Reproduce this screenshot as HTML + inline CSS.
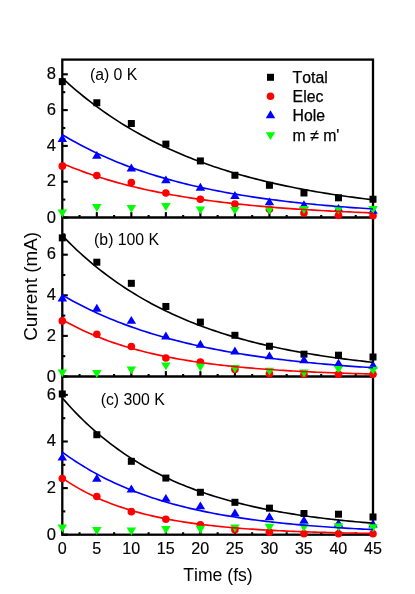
<!DOCTYPE html>
<html><head><meta charset="utf-8"><title>Current vs Time</title>
<style>
html,body{margin:0;padding:0;background:#fff;}
body{width:415px;height:594px;overflow:hidden;font-family:"Liberation Sans",sans-serif;}
svg{display:block;will-change:transform;font-kerning:none;font-family:"Liberation Sans",sans-serif;}
</style></head><body>
<svg width="415" height="594" viewBox="0 0 415 594">
<rect width="415" height="594" fill="#fff"/>
<g stroke="#000" stroke-width="2.3" fill="none" stroke-linecap="butt">
<rect x="62.3" y="59.6" width="310.7" height="475.1"/>
<line x1="62.3" y1="217.5" x2="373.0" y2="217.5"/>
<line x1="62.3" y1="376.5" x2="373.0" y2="376.5"/>
</g>
<g stroke="#000" stroke-width="2.1" fill="none">
<line x1="62.3" y1="217.50" x2="67.8" y2="217.50"/>
<line x1="62.3" y1="181.70" x2="67.8" y2="181.70"/>
<line x1="62.3" y1="145.90" x2="67.8" y2="145.90"/>
<line x1="62.3" y1="110.10" x2="67.8" y2="110.10"/>
<line x1="62.3" y1="74.30" x2="67.8" y2="74.30"/>
<line x1="62.3" y1="199.60" x2="65.3" y2="199.60"/>
<line x1="62.3" y1="163.80" x2="65.3" y2="163.80"/>
<line x1="62.3" y1="128.00" x2="65.3" y2="128.00"/>
<line x1="62.3" y1="92.20" x2="65.3" y2="92.20"/>
<line x1="62.30" y1="217.5" x2="62.30" y2="212.1"/>
<line x1="79.56" y1="217.5" x2="79.56" y2="215.0"/>
<line x1="96.82" y1="217.5" x2="96.82" y2="212.1"/>
<line x1="114.08" y1="217.5" x2="114.08" y2="215.0"/>
<line x1="131.34" y1="217.5" x2="131.34" y2="212.1"/>
<line x1="148.61" y1="217.5" x2="148.61" y2="215.0"/>
<line x1="165.87" y1="217.5" x2="165.87" y2="212.1"/>
<line x1="183.13" y1="217.5" x2="183.13" y2="215.0"/>
<line x1="200.39" y1="217.5" x2="200.39" y2="212.1"/>
<line x1="217.65" y1="217.5" x2="217.65" y2="215.0"/>
<line x1="234.91" y1="217.5" x2="234.91" y2="212.1"/>
<line x1="252.17" y1="217.5" x2="252.17" y2="215.0"/>
<line x1="269.43" y1="217.5" x2="269.43" y2="212.1"/>
<line x1="286.69" y1="217.5" x2="286.69" y2="215.0"/>
<line x1="303.96" y1="217.5" x2="303.96" y2="212.1"/>
<line x1="321.22" y1="217.5" x2="321.22" y2="215.0"/>
<line x1="338.48" y1="217.5" x2="338.48" y2="212.1"/>
<line x1="355.74" y1="217.5" x2="355.74" y2="215.0"/>
<line x1="373.00" y1="217.5" x2="373.00" y2="212.1"/>
<line x1="62.3" y1="376.50" x2="67.8" y2="376.50"/>
<line x1="62.3" y1="335.90" x2="67.8" y2="335.90"/>
<line x1="62.3" y1="295.30" x2="67.8" y2="295.30"/>
<line x1="62.3" y1="254.70" x2="67.8" y2="254.70"/>
<line x1="62.3" y1="356.20" x2="65.3" y2="356.20"/>
<line x1="62.3" y1="315.60" x2="65.3" y2="315.60"/>
<line x1="62.3" y1="275.00" x2="65.3" y2="275.00"/>
<line x1="62.3" y1="234.40" x2="65.3" y2="234.40"/>
<line x1="62.30" y1="376.5" x2="62.30" y2="371.1"/>
<line x1="79.56" y1="376.5" x2="79.56" y2="374.0"/>
<line x1="96.82" y1="376.5" x2="96.82" y2="371.1"/>
<line x1="114.08" y1="376.5" x2="114.08" y2="374.0"/>
<line x1="131.34" y1="376.5" x2="131.34" y2="371.1"/>
<line x1="148.61" y1="376.5" x2="148.61" y2="374.0"/>
<line x1="165.87" y1="376.5" x2="165.87" y2="371.1"/>
<line x1="183.13" y1="376.5" x2="183.13" y2="374.0"/>
<line x1="200.39" y1="376.5" x2="200.39" y2="371.1"/>
<line x1="217.65" y1="376.5" x2="217.65" y2="374.0"/>
<line x1="234.91" y1="376.5" x2="234.91" y2="371.1"/>
<line x1="252.17" y1="376.5" x2="252.17" y2="374.0"/>
<line x1="269.43" y1="376.5" x2="269.43" y2="371.1"/>
<line x1="286.69" y1="376.5" x2="286.69" y2="374.0"/>
<line x1="303.96" y1="376.5" x2="303.96" y2="371.1"/>
<line x1="321.22" y1="376.5" x2="321.22" y2="374.0"/>
<line x1="338.48" y1="376.5" x2="338.48" y2="371.1"/>
<line x1="355.74" y1="376.5" x2="355.74" y2="374.0"/>
<line x1="373.00" y1="376.5" x2="373.00" y2="371.1"/>
<line x1="62.3" y1="534.70" x2="67.8" y2="534.70"/>
<line x1="62.3" y1="488.10" x2="67.8" y2="488.10"/>
<line x1="62.3" y1="441.50" x2="67.8" y2="441.50"/>
<line x1="62.3" y1="394.90" x2="67.8" y2="394.90"/>
<line x1="62.3" y1="511.40" x2="65.3" y2="511.40"/>
<line x1="62.3" y1="464.80" x2="65.3" y2="464.80"/>
<line x1="62.3" y1="418.20" x2="65.3" y2="418.20"/>
<line x1="62.30" y1="534.7" x2="62.30" y2="529.3000000000001"/>
<line x1="79.56" y1="534.7" x2="79.56" y2="532.2"/>
<line x1="96.82" y1="534.7" x2="96.82" y2="529.3000000000001"/>
<line x1="114.08" y1="534.7" x2="114.08" y2="532.2"/>
<line x1="131.34" y1="534.7" x2="131.34" y2="529.3000000000001"/>
<line x1="148.61" y1="534.7" x2="148.61" y2="532.2"/>
<line x1="165.87" y1="534.7" x2="165.87" y2="529.3000000000001"/>
<line x1="183.13" y1="534.7" x2="183.13" y2="532.2"/>
<line x1="200.39" y1="534.7" x2="200.39" y2="529.3000000000001"/>
<line x1="217.65" y1="534.7" x2="217.65" y2="532.2"/>
<line x1="234.91" y1="534.7" x2="234.91" y2="529.3000000000001"/>
<line x1="252.17" y1="534.7" x2="252.17" y2="532.2"/>
<line x1="269.43" y1="534.7" x2="269.43" y2="529.3000000000001"/>
<line x1="286.69" y1="534.7" x2="286.69" y2="532.2"/>
<line x1="303.96" y1="534.7" x2="303.96" y2="529.3000000000001"/>
<line x1="321.22" y1="534.7" x2="321.22" y2="532.2"/>
<line x1="338.48" y1="534.7" x2="338.48" y2="529.3000000000001"/>
<line x1="355.74" y1="534.7" x2="355.74" y2="532.2"/>
<line x1="373.00" y1="534.7" x2="373.00" y2="529.3000000000001"/>
</g>
<g font-size="16.6" fill="#000" text-anchor="end" stroke="#000" stroke-width="0.15">
<text x="56.0" y="222.65">0</text>
<text x="56.0" y="186.35">2</text>
<text x="56.0" y="150.55">4</text>
<text x="56.0" y="114.75">6</text>
<text x="56.0" y="78.95">8</text>
<text x="56.0" y="381.65">0</text>
<text x="56.0" y="340.55">2</text>
<text x="56.0" y="299.95">4</text>
<text x="56.0" y="259.35">6</text>
<text x="56.0" y="540.35">0</text>
<text x="56.0" y="492.75">2</text>
<text x="56.0" y="446.15">4</text>
<text x="56.0" y="399.55">6</text>
</g>
<g font-size="16.1" fill="#000" text-anchor="middle" stroke="#000" stroke-width="0.15">
<text x="62.20" y="553.9">0</text>
<text x="96.72" y="553.9">5</text>
<text x="131.24" y="553.9">10</text>
<text x="165.77" y="553.9">15</text>
<text x="200.29" y="553.9">20</text>
<text x="234.81" y="553.9">25</text>
<text x="269.33" y="553.9">30</text>
<text x="303.86" y="553.9">35</text>
<text x="338.38" y="553.9">40</text>
<text x="372.90" y="553.9">45</text>
</g>
<rect x="58.80" y="78.14" width="7" height="7" fill="#000000"/>
<rect x="93.32" y="99.26" width="7" height="7" fill="#000000"/>
<rect x="127.84" y="120.03" width="7" height="7" fill="#000000"/>
<rect x="162.37" y="140.61" width="7" height="7" fill="#000000"/>
<rect x="196.89" y="157.44" width="7" height="7" fill="#000000"/>
<rect x="231.41" y="171.76" width="7" height="7" fill="#000000"/>
<rect x="265.93" y="181.78" width="7" height="7" fill="#000000"/>
<rect x="300.46" y="189.48" width="7" height="7" fill="#000000"/>
<rect x="334.98" y="194.31" width="7" height="7" fill="#000000"/>
<rect x="369.50" y="195.74" width="7" height="7" fill="#000000"/>
<circle cx="62.30" cy="166.13" r="3.8" fill="#ff0000"/>
<circle cx="96.82" cy="175.61" r="3.8" fill="#ff0000"/>
<circle cx="131.34" cy="182.59" r="3.8" fill="#ff0000"/>
<circle cx="165.87" cy="192.98" r="3.8" fill="#ff0000"/>
<circle cx="200.39" cy="199.24" r="3.8" fill="#ff0000"/>
<circle cx="234.91" cy="204.07" r="3.8" fill="#ff0000"/>
<circle cx="269.43" cy="209.27" r="3.8" fill="#ff0000"/>
<circle cx="303.96" cy="213.03" r="3.8" fill="#ff0000"/>
<circle cx="338.48" cy="215.35" r="3.8" fill="#ff0000"/>
<circle cx="373.00" cy="215.71" r="3.8" fill="#ff0000"/>
<path d="M57.55 141.97L67.05 141.97L62.30 134.07Z" fill="#0000ff"/>
<path d="M92.07 158.80L101.57 158.80L96.82 150.90Z" fill="#0000ff"/>
<path d="M126.59 171.51L136.09 171.51L131.34 163.61Z" fill="#0000ff"/>
<path d="M161.12 183.32L170.62 183.32L165.87 175.42Z" fill="#0000ff"/>
<path d="M195.64 190.66L205.14 190.66L200.39 182.76Z" fill="#0000ff"/>
<path d="M230.16 198.90L239.66 198.90L234.91 191.00Z" fill="#0000ff"/>
<path d="M264.68 205.34L274.18 205.34L269.43 197.44Z" fill="#0000ff"/>
<path d="M299.21 208.20L308.71 208.20L303.96 200.30Z" fill="#0000ff"/>
<path d="M333.73 211.78L343.23 211.78L338.48 203.88Z" fill="#0000ff"/>
<path d="M368.25 213.75L377.75 213.75L373.00 205.85Z" fill="#0000ff"/>
<path d="M57.55 209.52L67.05 209.52L62.30 217.42Z" fill="#00ff00"/>
<path d="M92.07 204.06L101.57 204.06L96.82 211.96Z" fill="#00ff00"/>
<path d="M126.59 204.96L136.09 204.96L131.34 212.86Z" fill="#00ff00"/>
<path d="M161.12 202.99L170.62 202.99L165.87 210.89Z" fill="#00ff00"/>
<path d="M195.64 206.39L205.14 206.39L200.39 214.29Z" fill="#00ff00"/>
<path d="M230.16 206.93L239.66 206.93L234.91 214.83Z" fill="#00ff00"/>
<path d="M264.68 206.57L274.18 206.57L269.43 214.47Z" fill="#00ff00"/>
<path d="M299.21 206.03L308.71 206.03L303.96 213.93Z" fill="#00ff00"/>
<path d="M333.73 206.39L343.23 206.39L338.48 214.29Z" fill="#00ff00"/>
<path d="M368.25 206.03L377.75 206.03L373.00 213.93Z" fill="#00ff00"/>
<polyline points="62.30,78.06 65.75,81.22 69.20,84.31 72.66,87.33 76.11,90.28 79.56,93.17 83.01,95.99 86.47,98.74 89.92,101.43 93.37,104.07 96.82,106.64 100.27,109.15 103.73,111.61 107.18,114.01 110.63,116.36 114.08,118.65 117.54,120.89 120.99,123.08 124.44,125.22 127.89,127.32 131.34,129.36 134.80,131.36 138.25,133.31 141.70,135.22 145.15,137.09 148.61,138.91 152.06,140.69 155.51,142.43 158.96,144.14 162.41,145.80 165.87,147.42 169.32,149.01 172.77,150.57 176.22,152.08 179.68,153.57 183.13,155.02 186.58,156.43 190.03,157.82 193.48,159.17 196.94,160.49 200.39,161.79 203.84,163.05 207.29,164.29 210.75,165.49 214.20,166.67 217.65,167.82 221.10,168.95 224.55,170.05 228.01,171.13 231.46,172.18 234.91,173.21 238.36,174.21 241.82,175.19 245.27,176.15 248.72,177.09 252.17,178.01 255.62,178.90 259.08,179.78 262.53,180.63 265.98,181.47 269.43,182.28 272.89,183.08 276.34,183.86 279.79,184.63 283.24,185.37 286.69,186.10 290.15,186.81 293.60,187.51 297.05,188.19 300.50,188.85 303.96,189.50 307.41,190.14 310.86,190.76 314.31,191.36 317.76,191.96 321.22,192.54 324.67,193.10 328.12,193.65 331.57,194.20 335.03,194.72 338.48,195.24 341.93,195.75 345.38,196.24 348.83,196.72 352.29,197.19 355.74,197.65 359.19,198.10 362.64,198.54 366.10,198.97 369.55,199.39 373.00,199.80" fill="none" stroke="#000000" stroke-width="1.65" stroke-linejoin="round"/>
<polyline points="62.30,163.44 65.75,164.90 69.20,166.32 72.66,167.70 76.11,169.04 79.56,170.34 83.01,171.62 86.47,172.85 89.92,174.06 93.37,175.23 96.82,176.37 100.27,177.47 103.73,178.55 107.18,179.60 110.63,180.62 114.08,181.62 117.54,182.59 120.99,183.53 124.44,184.44 127.89,185.33 131.34,186.20 134.80,187.04 138.25,187.86 141.70,188.66 145.15,189.44 148.61,190.20 152.06,190.93 155.51,191.65 158.96,192.35 162.41,193.02 165.87,193.68 169.32,194.33 172.77,194.95 176.22,195.56 179.68,196.15 183.13,196.72 186.58,197.28 190.03,197.83 193.48,198.36 196.94,198.88 200.39,199.38 203.84,199.87 207.29,200.34 210.75,200.80 214.20,201.25 217.65,201.69 221.10,202.12 224.55,202.53 228.01,202.94 231.46,203.33 234.91,203.71 238.36,204.08 241.82,204.44 245.27,204.80 248.72,205.14 252.17,205.47 255.62,205.80 259.08,206.11 262.53,206.42 265.98,206.72 269.43,207.01 272.89,207.29 276.34,207.56 279.79,207.83 283.24,208.09 286.69,208.35 290.15,208.59 293.60,208.83 297.05,209.07 300.50,209.29 303.96,209.52 307.41,209.73 310.86,209.94 314.31,210.14 317.76,210.34 321.22,210.54 324.67,210.72 328.12,210.91 331.57,211.08 335.03,211.26 338.48,211.42 341.93,211.59 345.38,211.75 348.83,211.90 352.29,212.05 355.74,212.20 359.19,212.34 362.64,212.48 366.10,212.62 369.55,212.75 373.00,212.88" fill="none" stroke="#ff0000" stroke-width="1.65" stroke-linejoin="round"/>
<polyline points="62.30,134.62 65.75,136.69 69.20,138.70 72.66,140.67 76.11,142.59 79.56,144.45 83.01,146.28 86.47,148.05 89.92,149.78 93.37,151.47 96.82,153.12 100.27,154.72 103.73,156.29 107.18,157.82 110.63,159.30 114.08,160.75 117.54,162.17 120.99,163.55 124.44,164.89 127.89,166.21 131.34,167.49 134.80,168.73 138.25,169.95 141.70,171.13 145.15,172.29 148.61,173.42 152.06,174.52 155.51,175.59 158.96,176.63 162.41,177.65 165.87,178.65 169.32,179.62 172.77,180.56 176.22,181.48 179.68,182.38 183.13,183.26 186.58,184.11 190.03,184.94 193.48,185.75 196.94,186.55 200.39,187.32 203.84,188.07 207.29,188.80 210.75,189.52 214.20,190.22 217.65,190.90 221.10,191.56 224.55,192.21 228.01,192.84 231.46,193.45 234.91,194.05 238.36,194.64 241.82,195.21 245.27,195.76 248.72,196.31 252.17,196.83 255.62,197.35 259.08,197.85 262.53,198.34 265.98,198.82 269.43,199.29 272.89,199.74 276.34,200.18 279.79,200.61 283.24,201.04 286.69,201.45 290.15,201.85 293.60,202.24 297.05,202.62 300.50,202.99 303.96,203.35 307.41,203.70 310.86,204.05 314.31,204.38 317.76,204.71 321.22,205.03 324.67,205.34 328.12,205.64 331.57,205.94 335.03,206.23 338.48,206.51 341.93,206.78 345.38,207.05 348.83,207.31 352.29,207.56 355.74,207.81 359.19,208.05 362.64,208.29 366.10,208.52 369.55,208.74 373.00,208.96" fill="none" stroke="#0000ff" stroke-width="1.65" stroke-linejoin="round"/>
<rect x="58.80" y="234.35" width="7" height="7" fill="#000000"/>
<rect x="93.32" y="258.71" width="7" height="7" fill="#000000"/>
<rect x="127.84" y="279.82" width="7" height="7" fill="#000000"/>
<rect x="162.37" y="302.96" width="7" height="7" fill="#000000"/>
<rect x="196.89" y="318.60" width="7" height="7" fill="#000000"/>
<rect x="231.41" y="331.79" width="7" height="7" fill="#000000"/>
<rect x="265.93" y="342.75" width="7" height="7" fill="#000000"/>
<rect x="300.46" y="350.67" width="7" height="7" fill="#000000"/>
<rect x="334.98" y="351.69" width="7" height="7" fill="#000000"/>
<rect x="369.50" y="353.51" width="7" height="7" fill="#000000"/>
<circle cx="62.30" cy="320.88" r="3.8" fill="#ff0000"/>
<circle cx="96.82" cy="334.28" r="3.8" fill="#ff0000"/>
<circle cx="131.34" cy="346.46" r="3.8" fill="#ff0000"/>
<circle cx="165.87" cy="358.03" r="3.8" fill="#ff0000"/>
<circle cx="200.39" cy="362.09" r="3.8" fill="#ff0000"/>
<circle cx="234.91" cy="369.39" r="3.8" fill="#ff0000"/>
<circle cx="269.43" cy="373.86" r="3.8" fill="#ff0000"/>
<circle cx="303.96" cy="374.27" r="3.8" fill="#ff0000"/>
<circle cx="338.48" cy="374.27" r="3.8" fill="#ff0000"/>
<circle cx="373.00" cy="374.27" r="3.8" fill="#ff0000"/>
<path d="M57.55 301.48L67.05 301.48L62.30 293.58Z" fill="#0000ff"/>
<path d="M92.07 311.63L101.57 311.63L96.82 303.73Z" fill="#0000ff"/>
<path d="M126.59 323.81L136.09 323.81L131.34 315.91Z" fill="#0000ff"/>
<path d="M161.12 339.44L170.62 339.44L165.87 331.54Z" fill="#0000ff"/>
<path d="M195.64 347.77L205.14 347.77L200.39 339.87Z" fill="#0000ff"/>
<path d="M230.16 354.47L239.66 354.47L234.91 346.57Z" fill="#0000ff"/>
<path d="M264.68 359.34L274.18 359.34L269.43 351.44Z" fill="#0000ff"/>
<path d="M299.21 363.19L308.71 363.19L303.96 355.30Z" fill="#0000ff"/>
<path d="M333.73 366.65L343.23 366.65L338.48 358.75Z" fill="#0000ff"/>
<path d="M368.25 368.57L377.75 368.57L373.00 360.67Z" fill="#0000ff"/>
<path d="M57.55 369.40L67.05 369.40L62.30 377.30Z" fill="#00ff00"/>
<path d="M92.07 370.01L101.57 370.01L96.82 377.91Z" fill="#00ff00"/>
<path d="M126.59 366.46L136.09 366.46L131.34 374.36Z" fill="#00ff00"/>
<path d="M161.12 362.40L170.62 362.40L165.87 370.30Z" fill="#00ff00"/>
<path d="M195.64 363.62L205.14 363.62L200.39 371.52Z" fill="#00ff00"/>
<path d="M230.16 365.04L239.66 365.04L234.91 372.94Z" fill="#00ff00"/>
<path d="M264.68 367.68L274.18 367.68L269.43 375.58Z" fill="#00ff00"/>
<path d="M299.21 369.50L308.71 369.50L303.96 377.40Z" fill="#00ff00"/>
<path d="M333.73 365.75L343.23 365.75L338.48 373.65Z" fill="#00ff00"/>
<path d="M368.25 366.87L377.75 366.87L373.00 374.77Z" fill="#00ff00"/>
<polyline points="62.30,235.62 65.75,239.17 69.20,242.63 72.66,246.00 76.11,249.28 79.56,252.49 83.01,255.61 86.47,258.66 89.92,261.63 93.37,264.52 96.82,267.34 100.27,270.09 103.73,272.77 107.18,275.38 110.63,277.93 114.08,280.41 117.54,282.83 120.99,285.19 124.44,287.49 127.89,289.73 131.34,291.92 134.80,294.05 138.25,296.13 141.70,298.15 145.15,300.12 148.61,302.05 152.06,303.92 155.51,305.75 158.96,307.53 162.41,309.27 165.87,310.96 169.32,312.61 172.77,314.22 176.22,315.79 179.68,317.32 183.13,318.81 186.58,320.26 190.03,321.68 193.48,323.06 196.94,324.41 200.39,325.72 203.84,327.00 207.29,328.25 210.75,329.46 214.20,330.65 217.65,331.80 221.10,332.93 224.55,334.02 228.01,335.09 231.46,336.14 234.91,337.15 238.36,338.14 241.82,339.11 245.27,340.05 248.72,340.97 252.17,341.87 255.62,342.74 259.08,343.59 262.53,344.42 265.98,345.22 269.43,346.01 272.89,346.78 276.34,347.53 279.79,348.26 283.24,348.97 286.69,349.66 290.15,350.34 293.60,351.00 297.05,351.64 300.50,352.27 303.96,352.88 307.41,353.47 310.86,354.05 314.31,354.62 317.76,355.17 321.22,355.71 324.67,356.23 328.12,356.74 331.57,357.24 335.03,357.72 338.48,358.20 341.93,358.66 345.38,359.11 348.83,359.54 352.29,359.97 355.74,360.39 359.19,360.79 362.64,361.19 366.10,361.58 369.55,361.95 373.00,362.32" fill="none" stroke="#000000" stroke-width="1.65" stroke-linejoin="round"/>
<polyline points="62.30,319.66 65.75,321.61 69.20,323.50 72.66,325.32 76.11,327.08 79.56,328.78 83.01,330.42 86.47,332.00 89.92,333.53 93.37,335.01 96.82,336.43 100.27,337.81 103.73,339.14 107.18,340.42 110.63,341.66 114.08,342.86 117.54,344.01 120.99,345.13 124.44,346.21 127.89,347.25 131.34,348.25 134.80,349.22 138.25,350.16 141.70,351.07 145.15,351.94 148.61,352.78 152.06,353.60 155.51,354.39 158.96,355.15 162.41,355.88 165.87,356.59 169.32,357.27 172.77,357.93 176.22,358.57 179.68,359.19 183.13,359.78 186.58,360.36 190.03,360.91 193.48,361.45 196.94,361.96 200.39,362.46 203.84,362.95 207.29,363.41 210.75,363.86 214.20,364.30 217.65,364.72 221.10,365.12 224.55,365.51 228.01,365.89 231.46,366.25 234.91,366.61 238.36,366.95 241.82,367.27 245.27,367.59 248.72,367.90 252.17,368.19 255.62,368.48 259.08,368.75 262.53,369.02 265.98,369.28 269.43,369.52 272.89,369.76 276.34,370.00 279.79,370.22 283.24,370.44 286.69,370.64 290.15,370.84 293.60,371.04 297.05,371.23 300.50,371.41 303.96,371.58 307.41,371.75 310.86,371.92 314.31,372.07 317.76,372.22 321.22,372.37 324.67,372.51 328.12,372.65 331.57,372.78 335.03,372.91 338.48,373.03 341.93,373.15 345.38,373.27 348.83,373.38 352.29,373.49 355.74,373.59 359.19,373.69 362.64,373.79 366.10,373.88 369.55,373.97 373.00,374.06" fill="none" stroke="#ff0000" stroke-width="1.65" stroke-linejoin="round"/>
<polyline points="62.30,295.10 65.75,297.09 69.20,299.03 72.66,300.92 76.11,302.77 79.56,304.57 83.01,306.33 86.47,308.05 89.92,309.72 93.37,311.35 96.82,312.95 100.27,314.50 103.73,316.02 107.18,317.49 110.63,318.94 114.08,320.34 117.54,321.72 120.99,323.06 124.44,324.36 127.89,325.64 131.34,326.88 134.80,328.09 138.25,329.28 141.70,330.43 145.15,331.56 148.61,332.66 152.06,333.73 155.51,334.78 158.96,335.80 162.41,336.79 165.87,337.76 169.32,338.71 172.77,339.63 176.22,340.53 179.68,341.41 183.13,342.27 186.58,343.11 190.03,343.92 193.48,344.72 196.94,345.50 200.39,346.26 203.84,346.99 207.29,347.72 210.75,348.42 214.20,349.11 217.65,349.78 221.10,350.43 224.55,351.07 228.01,351.69 231.46,352.30 234.91,352.89 238.36,353.46 241.82,354.03 245.27,354.58 248.72,355.11 252.17,355.64 255.62,356.15 259.08,356.64 262.53,357.13 265.98,357.60 269.43,358.06 272.89,358.52 276.34,358.96 279.79,359.38 283.24,359.80 286.69,360.21 290.15,360.61 293.60,361.00 297.05,361.38 300.50,361.75 303.96,362.11 307.41,362.46 310.86,362.80 314.31,363.14 317.76,363.46 321.22,363.78 324.67,364.09 328.12,364.40 331.57,364.69 335.03,364.98 338.48,365.26 341.93,365.54 345.38,365.81 348.83,366.07 352.29,366.32 355.74,366.57 359.19,366.81 362.64,367.05 366.10,367.28 369.55,367.51 373.00,367.73" fill="none" stroke="#0000ff" stroke-width="1.65" stroke-linejoin="round"/>
<rect x="58.80" y="390.47" width="7" height="7" fill="#000000"/>
<rect x="93.32" y="431.24" width="7" height="7" fill="#000000"/>
<rect x="127.84" y="457.81" width="7" height="7" fill="#000000"/>
<rect x="162.37" y="474.58" width="7" height="7" fill="#000000"/>
<rect x="196.89" y="488.79" width="7" height="7" fill="#000000"/>
<rect x="231.41" y="498.81" width="7" height="7" fill="#000000"/>
<rect x="265.93" y="504.64" width="7" height="7" fill="#000000"/>
<rect x="300.46" y="510.00" width="7" height="7" fill="#000000"/>
<rect x="334.98" y="510.70" width="7" height="7" fill="#000000"/>
<rect x="369.50" y="513.49" width="7" height="7" fill="#000000"/>
<circle cx="62.30" cy="478.55" r="3.8" fill="#ff0000"/>
<circle cx="96.82" cy="496.49" r="3.8" fill="#ff0000"/>
<circle cx="131.34" cy="511.63" r="3.8" fill="#ff0000"/>
<circle cx="165.87" cy="519.32" r="3.8" fill="#ff0000"/>
<circle cx="200.39" cy="524.68" r="3.8" fill="#ff0000"/>
<circle cx="234.91" cy="529.81" r="3.8" fill="#ff0000"/>
<circle cx="269.43" cy="532.14" r="3.8" fill="#ff0000"/>
<circle cx="303.96" cy="533.77" r="3.8" fill="#ff0000"/>
<circle cx="338.48" cy="533.77" r="3.8" fill="#ff0000"/>
<circle cx="373.00" cy="533.77" r="3.8" fill="#ff0000"/>
<path d="M57.55 460.60L67.05 460.60L62.30 452.70Z" fill="#0000ff"/>
<path d="M92.07 481.80L101.57 481.80L96.82 473.90Z" fill="#0000ff"/>
<path d="M126.59 492.52L136.09 492.52L131.34 484.62Z" fill="#0000ff"/>
<path d="M161.12 501.84L170.62 501.84L165.87 493.94Z" fill="#0000ff"/>
<path d="M195.64 509.29L205.14 509.29L200.39 501.39Z" fill="#0000ff"/>
<path d="M230.16 516.52L239.66 516.52L234.91 508.62Z" fill="#0000ff"/>
<path d="M264.68 520.24L274.18 520.24L269.43 512.34Z" fill="#0000ff"/>
<path d="M299.21 523.74L308.71 523.74L303.96 515.84Z" fill="#0000ff"/>
<path d="M333.73 526.77L343.23 526.77L338.48 518.87Z" fill="#0000ff"/>
<path d="M368.25 527.47L377.75 527.47L373.00 519.57Z" fill="#0000ff"/>
<path d="M57.55 524.58L67.05 524.58L62.30 532.48Z" fill="#00ff00"/>
<path d="M92.07 527.02L101.57 527.02L96.82 534.92Z" fill="#00ff00"/>
<path d="M126.59 527.60L136.09 527.60L131.34 535.50Z" fill="#00ff00"/>
<path d="M161.12 526.09L170.62 526.09L165.87 533.99Z" fill="#00ff00"/>
<path d="M195.64 525.86L205.14 525.86L200.39 533.76Z" fill="#00ff00"/>
<path d="M230.16 524.46L239.66 524.46L234.91 532.36Z" fill="#00ff00"/>
<path d="M264.68 523.76L274.18 523.76L269.43 531.66Z" fill="#00ff00"/>
<path d="M299.21 523.76L308.71 523.76L303.96 531.66Z" fill="#00ff00"/>
<path d="M333.73 523.29L343.23 523.29L338.48 531.19Z" fill="#00ff00"/>
<path d="M368.25 524.23L377.75 524.23L373.00 532.13Z" fill="#00ff00"/>
<polyline points="62.30,397.93 65.75,401.88 69.20,405.72 72.66,409.45 76.11,413.06 79.56,416.57 83.01,419.97 86.47,423.28 89.92,426.49 93.37,429.60 96.82,432.62 100.27,435.56 103.73,438.41 107.18,441.17 110.63,443.85 114.08,446.45 117.54,448.98 120.99,451.43 124.44,453.81 127.89,456.12 131.34,458.37 134.80,460.54 138.25,462.66 141.70,464.71 145.15,466.70 148.61,468.63 152.06,470.50 155.51,472.32 158.96,474.09 162.41,475.80 165.87,477.47 169.32,479.08 172.77,480.65 176.22,482.17 179.68,483.64 183.13,485.08 186.58,486.47 190.03,487.82 193.48,489.13 196.94,490.40 200.39,491.63 203.84,492.83 207.29,494.00 210.75,495.12 214.20,496.22 217.65,497.28 221.10,498.31 224.55,499.32 228.01,500.29 231.46,501.23 234.91,502.15 238.36,503.04 241.82,503.90 245.27,504.74 248.72,505.55 252.17,506.34 255.62,507.10 259.08,507.85 262.53,508.57 265.98,509.27 269.43,509.95 272.89,510.61 276.34,511.25 279.79,511.87 283.24,512.47 286.69,513.06 290.15,513.62 293.60,514.18 297.05,514.71 300.50,515.23 303.96,515.73 307.41,516.22 310.86,516.70 314.31,517.16 317.76,517.61 321.22,518.04 324.67,518.46 328.12,518.87 331.57,519.27 335.03,519.65 338.48,520.03 341.93,520.39 345.38,520.74 348.83,521.08 352.29,521.42 355.74,521.74 359.19,522.05 362.64,522.35 366.10,522.65 369.55,522.94 373.00,523.21" fill="none" stroke="#000000" stroke-width="1.65" stroke-linejoin="round"/>
<polyline points="62.30,478.08 65.75,480.43 69.20,482.68 72.66,484.84 76.11,486.91 79.56,488.89 83.01,490.79 86.47,492.61 89.92,494.36 93.37,496.03 96.82,497.64 100.27,499.17 103.73,500.65 107.18,502.06 110.63,503.42 114.08,504.71 117.54,505.96 120.99,507.15 124.44,508.29 127.89,509.39 131.34,510.44 134.80,511.45 138.25,512.41 141.70,513.33 145.15,514.22 148.61,515.07 152.06,515.89 155.51,516.67 158.96,517.41 162.41,518.13 165.87,518.82 169.32,519.48 172.77,520.11 176.22,520.71 179.68,521.29 183.13,521.85 186.58,522.38 190.03,522.89 193.48,523.38 196.94,523.85 200.39,524.30 203.84,524.74 207.29,525.15 210.75,525.54 214.20,525.92 217.65,526.29 221.10,526.64 224.55,526.97 228.01,527.29 231.46,527.60 234.91,527.89 238.36,528.18 241.82,528.45 245.27,528.71 248.72,528.96 252.17,529.19 255.62,529.42 259.08,529.64 262.53,529.85 265.98,530.05 269.43,530.25 272.89,530.43 276.34,530.61 279.79,530.78 283.24,530.94 286.69,531.10 290.15,531.25 293.60,531.39 297.05,531.53 300.50,531.66 303.96,531.78 307.41,531.90 310.86,532.02 314.31,532.13 317.76,532.24 321.22,532.34 324.67,532.44 328.12,532.53 331.57,532.62 335.03,532.71 338.48,532.79 341.93,532.87 345.38,532.95 348.83,533.02 352.29,533.09 355.74,533.16 359.19,533.22 362.64,533.28 366.10,533.34 369.55,533.40 373.00,533.45" fill="none" stroke="#ff0000" stroke-width="1.65" stroke-linejoin="round"/>
<polyline points="62.30,452.10 65.75,454.61 69.20,457.05 72.66,459.41 76.11,461.69 79.56,463.91 83.01,466.06 86.47,468.15 89.92,470.17 93.37,472.13 96.82,474.04 100.27,475.88 103.73,477.67 107.18,479.40 110.63,481.08 114.08,482.71 117.54,484.29 120.99,485.82 124.44,487.31 127.89,488.75 131.34,490.15 134.80,491.50 138.25,492.81 141.70,494.09 145.15,495.32 148.61,496.52 152.06,497.68 155.51,498.80 158.96,499.89 162.41,500.95 165.87,501.98 169.32,502.97 172.77,503.94 176.22,504.87 179.68,505.78 183.13,506.66 186.58,507.51 190.03,508.34 193.48,509.14 196.94,509.91 200.39,510.67 203.84,511.40 207.29,512.11 210.75,512.79 214.20,513.46 217.65,514.10 221.10,514.73 224.55,515.34 228.01,515.93 231.46,516.50 234.91,517.05 238.36,517.59 241.82,518.11 245.27,518.61 248.72,519.10 252.17,519.57 255.62,520.03 259.08,520.48 262.53,520.91 265.98,521.33 269.43,521.74 272.89,522.13 276.34,522.51 279.79,522.88 283.24,523.24 286.69,523.59 290.15,523.93 293.60,524.26 297.05,524.57 300.50,524.88 303.96,525.18 307.41,525.47 310.86,525.75 314.31,526.02 317.76,526.28 321.22,526.54 324.67,526.79 328.12,527.03 331.57,527.26 335.03,527.49 338.48,527.71 341.93,527.92 345.38,528.13 348.83,528.33 352.29,528.52 355.74,528.71 359.19,528.89 362.64,529.07 366.10,529.24 369.55,529.40 373.00,529.56" fill="none" stroke="#0000ff" stroke-width="1.65" stroke-linejoin="round"/>
<rect x="267.00" y="73.80" width="7" height="7" fill="#000000"/>
<circle cx="270.50" cy="96.30" r="3.8" fill="#ff0000"/>
<path d="M265.75 118.25L275.25 118.25L270.50 110.35Z" fill="#0000ff"/>
<path d="M265.75 132.15L275.25 132.15L270.50 140.05Z" fill="#00ff00"/>
<g font-size="15.8" fill="#000" stroke="#000" stroke-width="0.25">
<text x="292.6" y="82.9">Total</text>
<text x="292.6" y="102.1">Elec</text>
<text x="292.6" y="121.0">Hole</text>
<text x="292.6" y="140.5">m ≠ m'</text>
</g>
<g font-size="15.8" fill="#000">
<text x="89.9" y="80.0">(a) 0 K</text>
<text x="94.1" y="244.9">(b) 100 K</text>
<text x="100.7" y="405.2">(c) 300 K</text>
</g>
<text x="218.0" y="580.8" font-size="17.6" text-anchor="middle">Time (fs)</text>
<text transform="translate(37.4,286.4) rotate(-90)" font-size="18.85" text-anchor="middle">Current (mA)</text>
</svg>
</body></html>
